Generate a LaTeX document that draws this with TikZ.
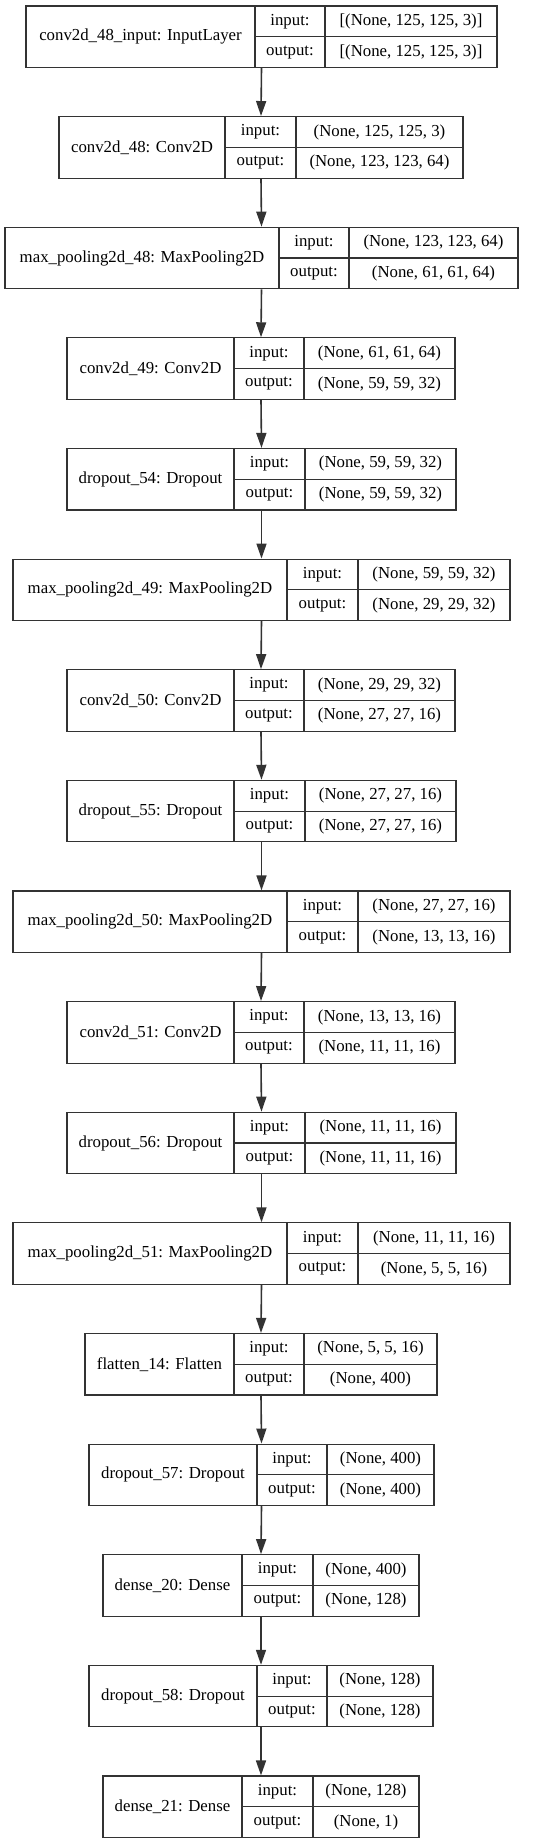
\documentclass[tikz,border=0pt]{standalone}
\usepackage{fontspec}
\setmainfont{Liberation Serif}
\usepackage{tikz}
\usetikzlibrary{arrows.meta}
\definecolor{linegray}{HTML}{333333}
\def\boxh{61.5}
\def\pitch{110.625}
% one layer: id, index, x0, x1, x2, x3, name, input, output
\newcommand{\layer}[9]{%
    \pgfmathsetmacro\ytop{6+\pitch*#2}
    \pgfmathsetmacro\ymid{\ytop+\boxh/2}
    \pgfmathsetmacro\ybot{\ytop+\boxh}
    \node[box, minimum width={(#6-#3)*1pt}] (#1) at ({(#3+#6)/2},\ymid) {};
    \draw[cell] (#4,\ytop) -- (#4,\ybot);
    \draw[cell] (#5,\ytop) -- (#5,\ybot);
    \draw[cell] (#4,\ymid) -- (#6,\ymid);
    \node (#1-name) at ({(#3+#4)/2},\ymid) {#7};
    \node (#1-il) at ({(#4+#5)/2},{\ytop+\boxh/4}) {input:};
    \node (#1-ol) at ({(#4+#5)/2},{\ytop+3*\boxh/4}) {output:};
    \node (#1-iv) at ({(#5+#6)/2},{\ytop+\boxh/4}) {#8};
    \node (#1-ov) at ({(#5+#6)/2},{\ytop+3*\boxh/4}) {#9};
}

\begin{document}
\begin{tikzpicture}[x=1pt, y=-1pt, font=\fontsize{16.8}{20}\selectfont,
    box/.style={draw=linegray, line width=1.2pt, minimum height=\boxh pt, inner sep=0pt},
    cell/.style={draw=linegray, line width=1.2pt},
    arrow/.style={draw=linegray, line width=1.6pt, -{Triangle[length=15pt, width=10pt]}}]
\useasboundingbox (0,0) rectangle (544,1844);
%\draw[step=10, black!20] (0,0) grid (544,1844);
    \layer{L0}{0}{26}{255}{325}{497}{conv2d\_48\_input: InputLayer}{[(None, 125, 125, 3)]}{[(None, 125, 125, 3)]}
    \layer{L1}{1}{59}{225}{296}{463}{conv2d\_48: Conv2D}{(None, 125, 125, 3)}{(None, 123, 123, 64)}
    \layer{L2}{2}{5}{279}{349}{518}{max\_pooling2d\_48: MaxPooling2D}{(None, 123, 123, 64)}{(None, 61, 61, 64)}
    \layer{L3}{3}{67}{234}{304}{455}{conv2d\_49: Conv2D}{(None, 61, 61, 64)}{(None, 59, 59, 32)}
    \layer{L4}{4}{67}{234}{305}{456}{dropout\_54: Dropout}{(None, 59, 59, 32)}{(None, 59, 59, 32)}
    \layer{L5}{5}{13}{287}{358}{510}{max\_pooling2d\_49: MaxPooling2D}{(None, 59, 59, 32)}{(None, 29, 29, 32)}
    \layer{L6}{6}{67}{234}{304}{455}{conv2d\_50: Conv2D}{(None, 29, 29, 32)}{(None, 27, 27, 16)}
    \layer{L7}{7}{67}{234}{305}{456}{dropout\_55: Dropout}{(None, 27, 27, 16)}{(None, 27, 27, 16)}
    \layer{L8}{8}{13}{287}{358}{510}{max\_pooling2d\_50: MaxPooling2D}{(None, 27, 27, 16)}{(None, 13, 13, 16)}
    \layer{L9}{9}{67}{234}{304}{455}{conv2d\_51: Conv2D}{(None, 13, 13, 16)}{(None, 11, 11, 16)}
    \layer{L10}{10}{67}{234}{305}{456}{dropout\_56: Dropout}{(None, 11, 11, 16)}{(None, 11, 11, 16)}
    \layer{L11}{11}{13}{287}{358}{510}{max\_pooling2d\_51: MaxPooling2D}{(None, 11, 11, 16)}{(None, 5, 5, 16)}
    \layer{L12}{12}{85}{234}{304}{437}{flatten\_14: Flatten}{(None, 5, 5, 16)}{(None, 400)}
    \layer{L13}{13}{89}{257}{327}{434}{dropout\_57: Dropout}{(None, 400)}{(None, 400)}
    \layer{L14}{14}{103}{242}{313}{419}{dense\_20: Dense}{(None, 400)}{(None, 128)}
    \layer{L15}{15}{89}{257}{327}{433}{dropout\_58: Dropout}{(None, 128)}{(None, 128)}
    \layer{L16}{16}{103}{242}{313}{419}{dense\_21: Dense}{(None, 128)}{(None, 1)}
    \foreach \i [evaluate=\i as \j using int(\i+1)] in {0,...,15}
        \draw[arrow] (L\i.south) -- (L\j.north);
\end{tikzpicture}
\end{document}
